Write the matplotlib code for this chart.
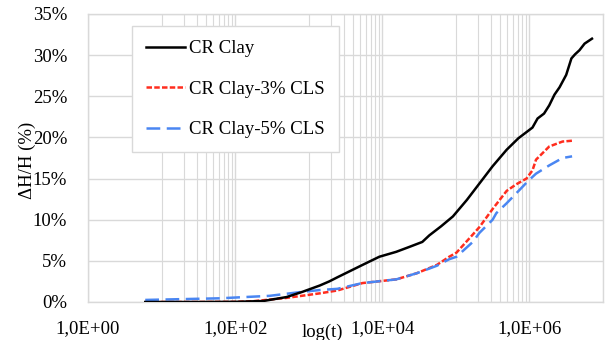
import numpy as np
import matplotlib.pyplot as plt
from matplotlib.ticker import FixedLocator, FuncFormatter

plt.rcParams['font.family'] = ['Liberation Serif', 'DejaVu Serif']

# tiempo (s) y asentamiento (%)
t_clay = [6, 32, 100, 240, 500, 830, 1410, 1900, 2450, 5370, 9120, 15500, 23400,
          35000, 43600, 63000, 91200, 141000, 209000, 316000, 490000, 708000,
          1.10e6, 1.29e6, 1.58e6, 1.86e6, 2.19e6, 2.57e6, 3.16e6, 3.72e6,
          4.17e6, 4.79e6, 5.62e6, 7.08e6]
h_clay = [0, 0, 0.02, 0.12, 0.6, 1.25, 2.0, 2.5, 3.0, 4.5, 5.5, 6.1, 6.7,
          7.3, 8.1, 9.2, 10.4, 12.4, 14.4, 16.5, 18.5, 19.9,
          21.2, 22.3, 22.9, 23.9, 25.2, 26.1, 27.6, 29.6,
          30.1, 30.6, 31.4, 32.0]

t_cls3 = [6, 32, 100, 178, 500, 1410, 2450, 5370, 15500, 29500, 55000, 81300,
          102000, 170000, 209000, 316000, 490000, 661000, 912000, 1.10e6,
          1.23e6, 1.86e6, 2.82e6, 3.80e6]
h_cls3 = [0, 0, 0.02, 0.1, 0.5, 1.05, 1.4, 2.3, 2.75, 3.5, 4.5, 5.5,
          6.0, 8.2, 9.1, 11.3, 13.5, 14.3, 15.0, 16.0,
          17.3, 18.9, 19.5, 19.6]

t_cls5 = [6, 62, 295, 760, 1410, 2450, 5370, 15500, 29500, 55000, 81300,
          102000, 170000, 209000, 316000, 355000, 490000, 661000, 912000,
          1.10e6, 1.23e6, 1.86e6, 2.82e6, 3.80e6]
h_cls5 = [0.25, 0.45, 0.75, 1.2, 1.45, 1.6, 2.3, 2.75, 3.5, 4.4, 5.2,
          5.5, 7.3, 8.4, 10.0, 10.8, 12.0, 13.2, 14.5,
          15.2, 15.6, 16.6, 17.5, 17.7]

xticks = [1, 1e2, 1e4, 1e6]
xlabels = ['1,0E+00', '1,0E+02', '1,0E+04', '1,0E+06']
yticks = [0, 5, 10, 15, 20, 25, 30, 35]

W, H = 606, 340
fig = plt.figure(figsize=(W / 100, H / 100), dpi=100)
ax = fig.add_axes([88 / W, 1 - 302 / H, 515 / W, 288 / H])

gris = '#d9d9d9'
ax.plot(t_clay, h_clay, color='black', lw=1.8, label='CR Clay', zorder=4,
        solid_joinstyle='round')
ax.plot(t_cls3, h_cls3, color='#ff2d1e', lw=1.8, dashes=(2.2, 0.9),
        label='CR Clay-3% CLS', zorder=3)
ax.plot(t_cls5, h_cls5, color='#4a86f2', lw=1.8, dashes=(5.5, 2.6),
        label='CR Clay-5% CLS', zorder=3)

ax.set_xscale('log')
ax.set_xlim(1, 1e7)
ax.set_ylim(0, 35)

# lineas verticales estilo Excel (base 100)
menores = []
for k in range(4):
    for j in range(1, 10):
        menores.append(100 ** k * 10 * j)
ax.xaxis.set_major_locator(FixedLocator(xticks))
ax.xaxis.set_minor_locator(FixedLocator(menores))
ax.set_xticks(xticks)
ax.set_xticklabels(xlabels)
ax.xaxis.set_minor_formatter(FuncFormatter(lambda v, p: ''))
ax.set_yticks(yticks)
ax.yaxis.set_major_formatter(FuncFormatter(lambda v, p: '%d%%' % v))

ax.grid(True, which='major', color=gris, lw=1.0)
ax.grid(True, which='minor', axis='x', color=gris, lw=0.8)
ax.set_axisbelow(True)
ax.tick_params(which='both', length=0, labelsize=13.5)
ax.tick_params(axis='x', pad=13)
ax.tick_params(axis='y', pad=15)

for s in ax.spines.values():
    s.set_color(gris)
    s.set_linewidth(1.0)

ax.set_ylabel('ΔH/H (%)', fontsize=13.5)
ax.yaxis.set_label_coords((36 - 88) / 515, (302 - 160) / 288)
fig.text(322 / W, 1 - 332 / H, 'log(t)', fontsize=13.5, ha='center', va='center')

leg = ax.legend(loc='upper left', bbox_to_anchor=(132 / W, 1 - 26 / H),
                bbox_transform=fig.transFigure, fontsize=13.5, frameon=True,
                fancybox=False, edgecolor=gris, framealpha=1,
                handlelength=2.1, handletextpad=0.2, labelspacing=1.25,
                borderpad=0.75, borderaxespad=0)
leg.get_frame().set_linewidth(1.0)

plt.savefig('out.png', dpi=100)
